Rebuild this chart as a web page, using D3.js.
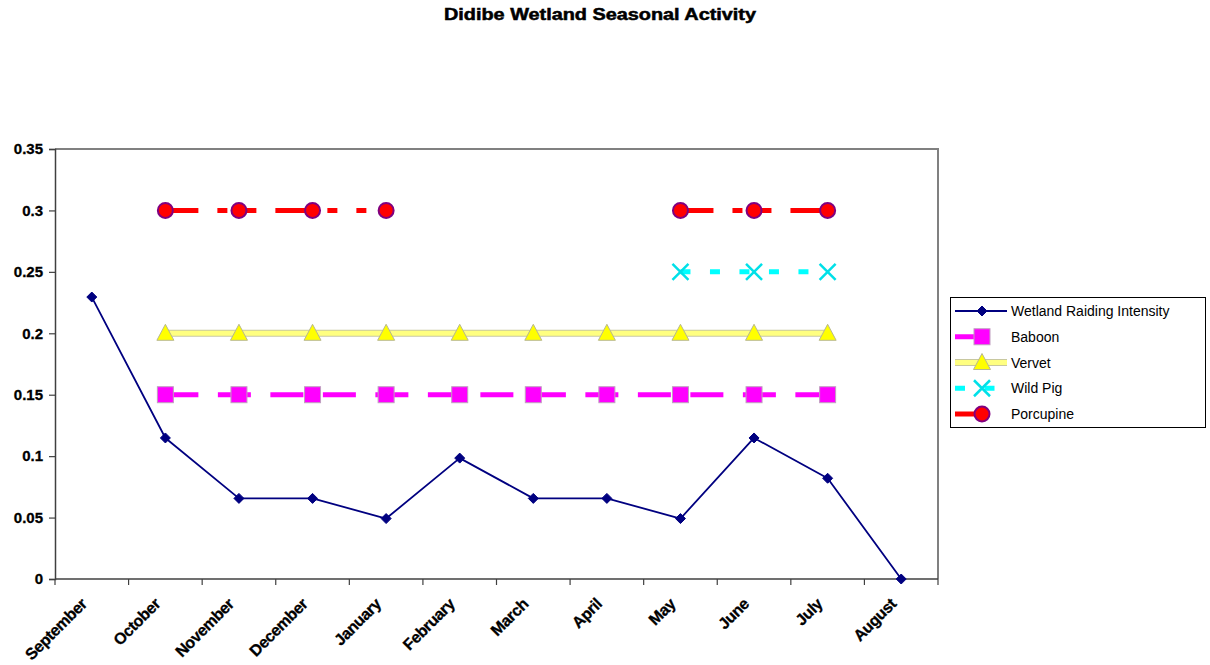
<!DOCTYPE html>
<html>
<head>
<meta charset="utf-8">
<script src="https://cdn.jsdelivr.net/npm/d3@7"></script>
<style>
  html, body { margin: 0; padding: 0; background: #fff; }
  svg { display: block; font-family: "Liberation Sans", Arial, sans-serif; }
</style>
</head>
<body>
<svg id="chart" width="1210" height="665"></svg>
<script>
// Months of the season, September through August
const months = ["September", "October", "November", "December", "January", "February",
                "March", "April", "May", "June", "July", "August"];

// Share of raiding incidents per month
const raidingIntensity = [0.2295, 0.1148, 0.0656, 0.0656, 0.0492, 0.0984,
                          0.0656, 0.0656, 0.0492, 0.1148, 0.082, 0];
// Presence of each species by month (null = not active)
const baboon    = [null, 0.15, 0.15, 0.15, 0.15, 0.15, 0.15, 0.15, 0.15, 0.15, 0.15, null];
const vervet    = [null, 0.2, 0.2, 0.2, 0.2, 0.2, 0.2, 0.2, 0.2, 0.2, 0.2, null];
const wildPig   = [null, null, null, null, null, null, null, null, 0.25, 0.25, 0.25, null];
const porcupine = [null, 0.3, 0.3, 0.3, 0.3, null, null, null, 0.3, 0.3, 0.3, null];

const yTicks = [0, 0.05, 0.1, 0.15, 0.2, 0.25, 0.3, 0.35];
const seriesNames = ["Wetland Raiding Intensity", "Baboon", "Vervet", "Wild Pig", "Porcupine"];

const svg = d3.select("#chart");
const plot = { left: 55, right: 938, top: 149, bottom: 579 };

const x = d3.scaleBand().domain(months).range([plot.left, plot.right]);
const y = d3.scaleLinear().domain([0, 0.35]).range([plot.bottom, plot.top]);
const cx = m => x(m) + x.bandwidth() / 2;

// Title
svg.append("text")
  .attr("x", 600).attr("y", 20)
  .attr("text-anchor", "middle")
  .attr("font-size", 16).attr("font-weight", "bold")
  .attr("stroke", "#000").attr("stroke-width", 0.5)
  .attr("textLength", 312).attr("lengthAdjust", "spacingAndGlyphs")
  .text("Didibe Wetland Seasonal Activity");

// Plot frame: grey top and right edges
svg.append("path")
  .attr("d", `M${plot.left},${plot.top}H${plot.right}V${plot.bottom}`)
  .attr("fill", "none").attr("stroke", "#808080").attr("stroke-width", 2);

// Y axis
const yAxis = d3.axisLeft(y).tickValues(yTicks).tickSize(6).tickPadding(6)
  .tickFormat(d => d === 0 ? "0" : String(+d.toFixed(2)));
const gy = svg.append("g").attr("transform", `translate(${plot.left},0)`).call(yAxis);
gy.select(".domain").attr("stroke", "#404040").attr("stroke-width", 1.5);
gy.selectAll(".tick line").attr("stroke", "#404040").attr("stroke-width", 1.2);
gy.selectAll(".tick text").attr("font-size", 15).attr("font-weight", "bold")
  .attr("stroke", "#000").attr("stroke-width", 0.3)
  .attr("font-family", "Liberation Sans, Arial, sans-serif").attr("fill", "#000");

// X axis: ticks on category boundaries, labels at category centres
const gx = svg.append("g");
gx.append("line")
  .attr("x1", plot.left).attr("x2", plot.right)
  .attr("y1", plot.bottom).attr("y2", plot.bottom)
  .attr("stroke", "#404040").attr("stroke-width", 1.5);
const boundaries = months.map(m => x(m)).concat([x.range()[1]]);
gx.selectAll("line.tick").data(boundaries).join("line")
  .attr("class", "tick")
  .attr("x1", d => d).attr("x2", d => d)
  .attr("y1", plot.bottom).attr("y2", plot.bottom + 6)
  .attr("stroke", "#404040").attr("stroke-width", 1.2);
gx.selectAll("text").data(months).join("text")
  .attr("transform", d => `translate(${cx(d) - 4},${plot.bottom + 26}) rotate(-45)`)
  .attr("text-anchor", "end")
  .attr("font-size", 16).attr("font-weight", "bold")
  .attr("letter-spacing", -0.4)
  .attr("stroke", "#000").attr("stroke-width", 0.3)
  .text(d => d);

// Contiguous runs of defined values, each drawn as its own path
function runs(values) {
  const out = [];
  let cur = [];
  values.forEach((v, i) => {
    if (v == null) { if (cur.length) out.push(cur); cur = []; }
    else cur.push({ m: months[i], v });
  });
  if (cur.length) out.push(cur);
  return out;
}
const line = d3.line().x(d => cx(d.m)).y(d => y(d.v));

function drawSeries(values, lineStyles, marker) {
  const g = svg.append("g");
  runs(values).forEach(r => {
    lineStyles.forEach(st => {
      g.append("path").datum(r).attr("d", line)
        .attr("fill", "none")
        .attr("stroke", st.color).attr("stroke-width", st.width)
        .attr("stroke-dasharray", st.dash || null)
        .attr("stroke-linejoin", "round");
    });
  });
  const pts = values.map((v, i) => ({ m: months[i], v })).filter(d => d.v != null);
  pts.forEach(d => marker(g, cx(d.m), y(d.v)));
}

// Marker painters
function diamond(g, px, py) {
  g.append("path").attr("d", `M${px},${py - 5}L${px + 5},${py}L${px},${py + 5}L${px - 5},${py}Z`)
    .attr("fill", "#000080").attr("stroke", "#000080").attr("stroke-width", 1);
}
function square(g, px, py) {
  g.append("rect").attr("x", px - 8).attr("y", py - 8).attr("width", 16).attr("height", 16)
    .attr("fill", "#ff00ff").attr("stroke", "#c0a0c0").attr("stroke-width", 1);
}
function triangle(g, px, py) {
  g.append("path").attr("d", `M${px},${py - 9}L${px + 8.5},${py + 7}L${px - 8.5},${py + 7}Z`)
    .attr("fill", "#ffff00").attr("stroke", "#b8b890").attr("stroke-width", 1);
}
function cross(g, px, py) {
  g.append("path").attr("d", `M${px - 8},${py - 8}L${px + 8},${py + 8}M${px - 8},${py + 8}L${px + 8},${py - 8}`)
    .attr("fill", "none").attr("stroke", "#00e0e8").attr("stroke-width", 2.5);
}
function circle(g, px, py) {
  g.append("circle").attr("cx", px).attr("cy", py).attr("r", 7.5)
    .attr("fill", "#ff0000").attr("stroke", "#800080").attr("stroke-width", 2);
}

const styles = {
  wetland:   [{ color: "#000080", width: 1.8 }],
  baboon:    [{ color: "#ff00ff", width: 5, dash: "33,19.5" }],
  vervet:    [{ color: "#c8c8a0", width: 7 }, { color: "#ffff80", width: 5 }],
  wildPig:   [{ color: "#00ffff", width: 5, dash: "10,19.5" }],
  porcupine: [{ color: "#ff0000", width: 5, dash: "33,19,10,19,10,19" }]
};

drawSeries(vervet, styles.vervet, triangle);
drawSeries(baboon, styles.baboon, square);
drawSeries(wildPig, styles.wildPig, cross);
drawSeries(porcupine, styles.porcupine, circle);
drawSeries(raidingIntensity, styles.wetland, diamond);

// Legend
const legend = svg.append("g");
legend.append("rect").attr("x", 950.5).attr("y", 297.5).attr("width", 255).attr("height", 130)
  .attr("fill", "#fff").attr("stroke", "#000").attr("stroke-width", 1);
const legendItems = [
  { style: styles.wetland, marker: diamond },
  { style: styles.baboon, marker: square },
  { style: styles.vervet, marker: triangle },
  { style: styles.wildPig, marker: cross },
  { style: styles.porcupine, marker: circle }
];
const rowY = d3.scalePoint().domain(seriesNames).range([311, 414]);
seriesNames.forEach((name, i) => {
  const yy = rowY(name);
  const it = legendItems[i];
  it.style.forEach(st => {
    legend.append("line").attr("x1", 955).attr("x2", 1007).attr("y1", yy).attr("y2", yy)
      .attr("stroke", st.color).attr("stroke-width", st.width)
      .attr("stroke-dasharray", st.dash || null);
  });
  it.marker(legend, 982, yy);
  legend.append("text").attr("x", 1011).attr("y", yy + 5)
    .attr("font-size", 14).attr("fill", "#000").text(name);
});
</script>
</body>
</html>
